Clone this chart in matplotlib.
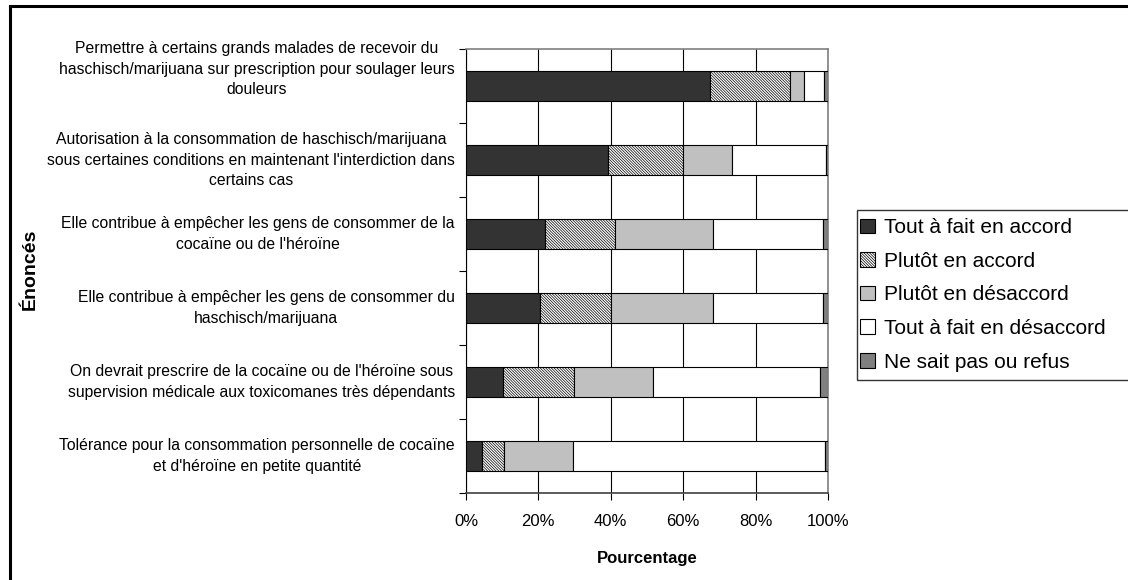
#!/usr/bin/env python3
import numpy as np
import matplotlib.pyplot as plt
from matplotlib.lines import Line2D

plt.rcParams['font.family'] = ['Liberation Sans', 'DejaVu Sans']
plt.rcParams['hatch.linewidth'] = 0.5
plt.rcParams['hatch.color'] = '#404040'

# Statements, top to bottom
enonces = [
    "Permettre à certains grands malades de recevoir du\nhaschisch/marijuana sur prescription pour soulager leurs\ndouleurs",
    "Autorisation à la consommation de haschisch/marijuana\nsous certaines conditions en maintenant l'interdiction dans\ncertains cas",
    "Elle contribue à empêcher les gens de consommer de la\ncocaïne ou de l'héroïne",
    "Elle contribue à empêcher les gens de consommer du\nhaschisch/marijuana",
    "On devrait prescrire de la cocaïne ou de l'héroïne sous\nsupervision médicale aux toxicomanes très dépendants",
    "Tolérance pour la consommation personnelle de cocaïne\net d'héroïne en petite quantité",
]

reponses = ["Tout à fait en accord", "Plutôt en accord", "Plutôt en désaccord",
            "Tout à fait en désaccord", "Ne sait pas ou refus"]

# Percentages per statement (same order as enonces)
tout_accord = [67.3, 39.2, 21.7, 20.5, 10.2, 4.5]
plutot_accord = [22.1, 20.8, 19.4, 19.5, 19.7, 6.0]
plutot_desaccord = [4.0, 13.4, 27.1, 28.2, 21.8, 19.1]
tout_desaccord = [5.5, 26.0, 30.4, 30.4, 46.1, 69.7]
nsp = [1.1, 0.6, 1.4, 1.4, 2.2, 0.7]

series = [tout_accord, plutot_accord, plutot_desaccord, tout_desaccord, nsp]
colors = ['#333333', 'white', '#c0c0c0', 'white', '#808080']
hatches = [None, '\\' * 12, None, None, None]

fig = plt.figure(figsize=(11.28, 5.8), dpi=100)
ax = fig.add_axes([0.4131, 0.15, 0.3209, 0.7655])

y = np.arange(len(enonces))
left = np.zeros(len(enonces))
for vals, col, hat, lab in zip(series, colors, hatches, reponses):
    ax.barh(y, vals, left=left, height=0.4, color=col, hatch=hat,
            edgecolor='black', linewidth=0.8, label=lab, zorder=3)
    left += np.array(vals)

ax.set_xlim(0, 100)
ax.set_ylim(len(enonces) - 0.5, -0.5)

# vertical grid
ax.set_xticks(np.arange(0, 101, 20))
ax.set_xticklabels(['%d%%' % v for v in range(0, 101, 20)], fontsize=12)
ax.grid(axis='x', color='black', linewidth=0.8, zorder=0)
ax.tick_params(axis='x', direction='out', length=5, width=0.8, pad=10)

# category boundaries get ticks, labels sit at centres
ax.set_yticks(np.arange(-0.5, len(enonces), 1.0), minor=True)
ax.set_yticks(y)
ax.set_yticklabels([])
ax.tick_params(axis='y', which='major', length=0)
ax.tick_params(axis='y', which='minor', direction='out', length=5, width=0.8)

label_shift = [12, 0, 0, 0, 0, 0]   # points
for yi, txt, dy in zip(y, enonces, label_shift):
    ax.annotate(txt, xy=(0, yi), xycoords=('axes fraction', 'data'),
                xytext=(-8, dy), textcoords='offset points',
                ha='right', va='center', multialignment='center',
                fontsize=11.3, linespacing=1.45)

for side in ['top', 'right']:
    ax.spines[side].set_color('#808080')
    ax.spines[side].set_linewidth(1.2)
ax.spines['left'].set_color('black')
ax.spines['bottom'].set_color('#404040')
ax.spines['bottom'].set_linewidth(1.2)

ax.set_xlabel('Pourcentage', fontsize=12, fontweight='bold', labelpad=16)
fig.text(0.027, 0.535, 'Énoncés', rotation=90, ha='center', va='center',
         fontsize=14, fontweight='bold')

# legend box runs past the right edge of the figure
leg = ax.legend(loc='upper left', bbox_to_anchor=(0.760, 0.348, 0.26, 0.29),
                bbox_transform=fig.transFigure, mode='expand', fontsize=15,
                frameon=True, fancybox=False, handlelength=0.7,
                handleheight=0.7, handletextpad=0.2, labelspacing=0.7,
                borderpad=0.4, borderaxespad=0)
leg._legend_box.align = 'left'
leg.get_frame().set_edgecolor('black')
leg.get_frame().set_linewidth(1.0)
for h in leg.legend_handles:
    h.set_x(h.get_x() - 4)

# outer frame (only top and left edges fall inside the image)
fig.add_artist(Line2D([0.0089, 0.0089], [0.0, 0.99], transform=fig.transFigure,
                      color='black', linewidth=2.2))
fig.add_artist(Line2D([0.0089, 1.0], [0.99, 0.99], transform=fig.transFigure,
                      color='black', linewidth=2.2))

fig.savefig('out.png', dpi=100)
